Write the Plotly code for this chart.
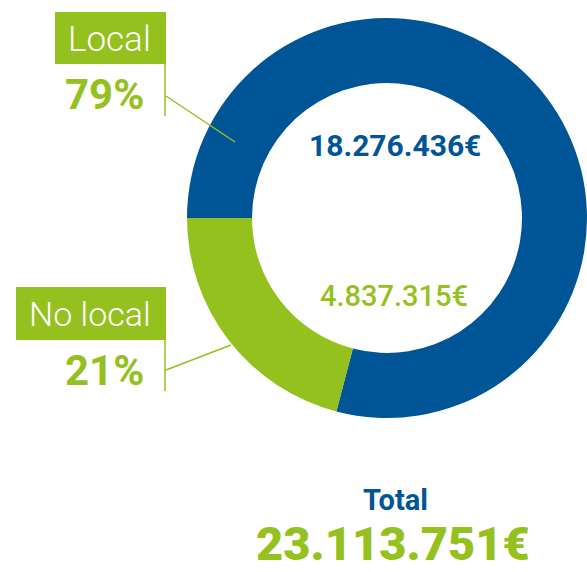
import plotly.graph_objects as go

# Data
categories = ["Local", "No local"]
amounts = [18276436, 4837315]
shares = ["79%", "21%"]
colors = ["#005596", "#95C11F"]
total_label = "Total"

W, H = 587, 572


def euro(v):
    return f"{v:,}".replace(",", ".") + "€"


def px(x):
    return x / W


def py(y):
    return 1 - y / H


total = sum(amounts)

# Donut geometry (pixels)
cx, cy, r = 387, 218, 200

fig = go.Figure(
    go.Pie(
        labels=categories,
        values=amounts,
        marker=dict(colors=colors, line=dict(width=0)),
        hole=0.675,
        sort=False,
        direction="clockwise",
        rotation=-90,
        textinfo="none",
        hoverinfo="skip",
        showlegend=False,
        domain=dict(x=[px(cx - r), px(cx + r)], y=[py(cy + r), py(cy - r)]),
    )
)

GREEN, BLUE = colors[1], colors[0]
font_main = "Roboto"

shapes = []
annotations = []

# Callout boxes, stems and leader lines for each category
callouts = [
    dict(i=0, box=(55, 12, 166, 64), stem=116, lead=((166, 96), (235, 142)),
         pct_y=95, lab_y=40, lab_size=35),
    dict(i=1, box=(16, 287, 166, 340), stem=391, lead=((166, 370), (231, 345)),
         pct_y=370, lab_y=314, lab_size=34),
]
for c in callouts:
    x0, y0, x1, y1 = c["box"]
    shapes.append(dict(type="rect", xref="paper", yref="paper",
                       x0=px(x0), x1=px(x1), y0=py(y1), y1=py(y0),
                       fillcolor=GREEN, line=dict(width=0), layer="above"))
    shapes.append(dict(type="line", xref="paper", yref="paper",
                       x0=px(x1 - 1), x1=px(x1 - 1), y0=py(y1), y1=py(c["stem"]),
                       line=dict(color=GREEN, width=1.5), layer="above"))
    (lx0, ly0), (lx1, ly1) = c["lead"]
    shapes.append(dict(type="line", xref="paper", yref="paper",
                       x0=px(lx0), x1=px(lx1), y0=py(ly0), y1=py(ly1),
                       line=dict(color=GREEN, width=1.5), layer="above"))
    annotations.append(dict(text=categories[c["i"]], xref="paper", yref="paper",
                            x=px(x1 - 13), y=py(c["lab_y"]), xanchor="right", yanchor="middle",
                            showarrow=False,
                            font=dict(family=font_main, size=c["lab_size"], color="white", weight=300)))
    annotations.append(dict(text=shares[c["i"]], xref="paper", yref="paper",
                            x=px(x1 - 20), y=py(c["pct_y"]), xanchor="right", yanchor="middle",
                            showarrow=False,
                            font=dict(family=font_main, size=42, color=GREEN, weight=700)))

# Amounts inside the ring
annotations.append(dict(text=euro(amounts[0]), xref="paper", yref="paper",
                        x=px(395), y=py(146), xanchor="center", yanchor="middle", showarrow=False,
                        font=dict(family=font_main, size=30, color=BLUE, weight=700)))
annotations.append(dict(text=euro(amounts[1]), xref="paper", yref="paper",
                        x=px(394), y=py(296), xanchor="center", yanchor="middle", showarrow=False,
                        font=dict(family=font_main, size=29, color=GREEN, weight=500)))

# Total
annotations.append(dict(text=total_label, xref="paper", yref="paper",
                        x=px(395), y=py(500), xanchor="center", yanchor="middle", showarrow=False,
                        font=dict(family=font_main, size=29, color=BLUE, weight=700)))
annotations.append(dict(text=euro(total), xref="paper", yref="paper",
                        x=px(393), y=0, xanchor="center", yanchor="bottom", showarrow=False,
                        borderpad=0,
                        font=dict(family=font_main, size=47, color=GREEN, weight=900)))

fig.update_layout(
    width=W, height=H,
    margin=dict(l=0, r=0, t=0, b=0),
    paper_bgcolor="white",
    plot_bgcolor="white",
    shapes=shapes,
    annotations=annotations,
)

fig.write_html("out.html")
